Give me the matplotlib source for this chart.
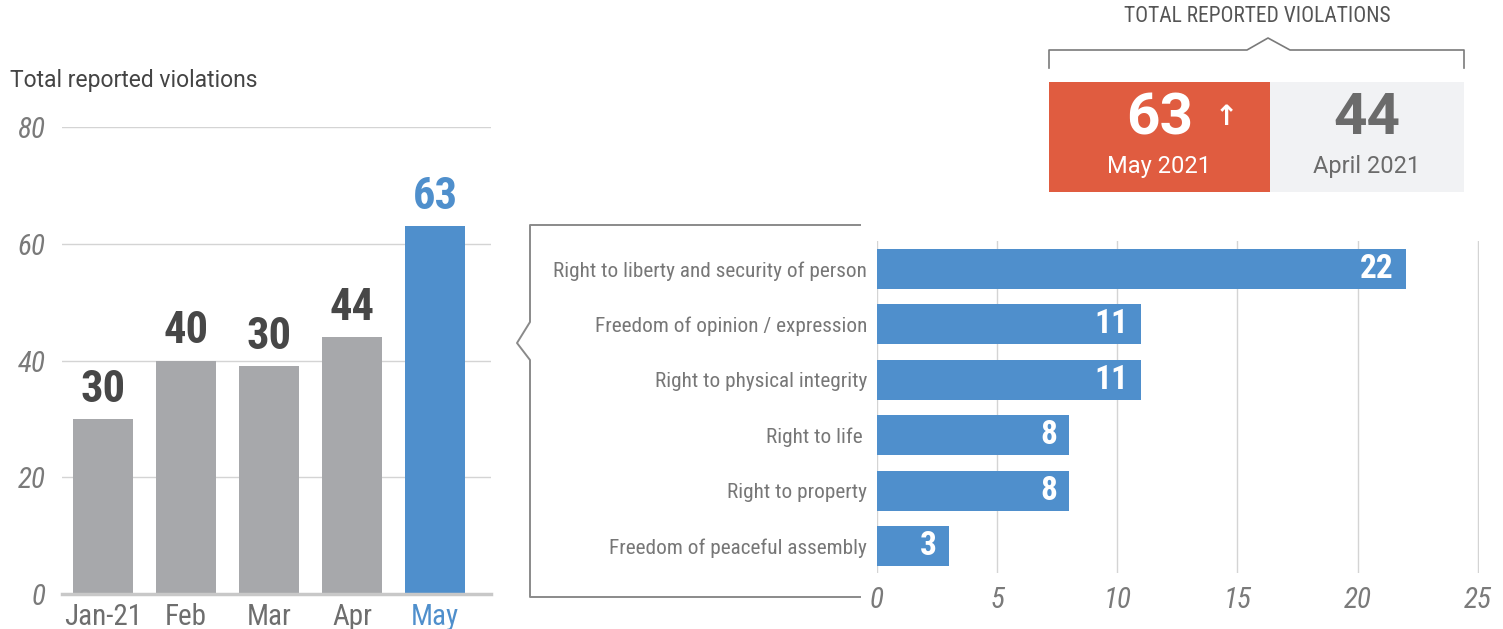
import matplotlib
matplotlib.use("Agg")
import matplotlib.pyplot as plt
from matplotlib import font_manager

# data
months = ["Jan-21", "Feb", "Mar", "Apr", "May"]
month_totals = [30, 40, 39, 44, 63]
month_labels = ["30", "40", "30", "44", "63"]

rights = ["Right to liberty and security of person", "Freedom of opinion / expression",
          "Right to physical integrity", "Right to life ", "Right to property",
          "Freedom of peaceful assembly"]
rights_counts = [22, 11, 11, 8, 8, 3]

current_total = 63
current_label = "May 2021"
previous_total = 44
previous_label = "April 2021"

names = {f.name for f in font_manager.fontManager.ttflist}
COND = "Roboto Condensed" if "Roboto Condensed" in names else "Roboto"
REG = "Roboto"
plt.rcParams["font.family"] = [COND, "DejaVu Sans"]

GREY_BAR = "#a7a8ab"
BLUE = "#4f8fcc"
RED = "#e05c40"
TXT = "#6e6e6e"

W, H = 1503, 629
fig = plt.figure(figsize=(W / 100, H / 100), dpi=100)


def box(l, t, r, b):
    return [l / W, 1 - b / H, (r - l) / W, (b - t) / H]


# overlay for decorations, pixel coords
ov = fig.add_axes([0, 0, 1, 1], zorder=0)
ov.set_xlim(0, W)
ov.set_ylim(H, 0)
ov.axis("off")

# ---- left: monthly totals
ax1 = fig.add_axes(box(62, 127, 491, 594))
x = range(len(months))
cols = [GREY_BAR] * (len(months) - 1) + [BLUE]
ax1.bar(x, month_totals, width=0.723, color=cols, zorder=3)
for i, (v, lab) in enumerate(zip(month_totals, month_labels)):
    ax1.annotate(lab, (i, v), xytext=(0, 6), textcoords="offset points",
                 ha="center", va="bottom", fontsize=32, fontweight="bold",
                 color=BLUE if i == len(months) - 1 else "#474747")
ax1.set_xlim(-0.494, 4.675)
ax1.set_ylim(0, 80)
ax1.set_yticks([0, 20, 40, 60, 80])
ax1.yaxis.grid(True, color="#d4d4d4", lw=1)
ax1.set_axisbelow(True)
for s in ["top", "right", "left"]:
    ax1.spines[s].set_visible(False)
ax1.spines["bottom"].set_color("#c8c8c8")
ax1.spines["bottom"].set_linewidth(2.5)
ax1.spines["bottom"].set_zorder(4)
ax1.tick_params(length=0)
ax1.set_xticks(list(x))
ax1.set_xticklabels(months, fontsize=21, color=TXT)
ax1.get_xticklabels()[-1].set_color(BLUE)
ax1.tick_params(axis="x", pad=6.5)
ax1.tick_params(axis="y", pad=12)
for t in ax1.get_yticklabels():
    t.set_fontsize(21)
    t.set_fontstyle("italic")
    t.set_color("#7a7a7a")

ov.text(10, 80, "Total reported violations", fontsize=16.5, color="#444444",
        ha="left", va="center", family=[REG, "DejaVu Sans"])

# ---- right: breakdown by right
ax2 = fig.add_axes(box(877, 241, 1479, 573))
y = range(len(rights))
ax2.barh(y, rights_counts, height=0.72, color=BLUE, zorder=3)
for i, v in enumerate(rights_counts):
    ax2.annotate(str(v), (v, i), xytext=(-9, 0), textcoords="offset points",
                 ha="right", va="center", fontsize=24, fontweight="bold", color="white")
ax2.set_ylim(len(rights) - 0.513, -0.505)
ax2.set_xlim(0, 25.05)
ax2.set_xticks([0, 5, 10, 15, 20, 25])
ax2.xaxis.grid(True, color="#d4d4d4", lw=1)
ax2.set_axisbelow(True)
for s in ax2.spines.values():
    s.set_visible(False)
ax2.tick_params(length=0)
ax2.set_yticks(list(y))
ax2.set_yticklabels(rights, fontsize=15.3, color="#777777")
ax2.tick_params(axis="y", pad=7)
ax2.tick_params(axis="x", pad=9)
for t in ax2.get_xticklabels():
    t.set_fontsize(21)
    t.set_fontstyle("italic")
    t.set_color("#7a7a7a")

# callout frame
ov.plot([860, 530, 530, 517, 530, 530, 860],
        [225, 225, 322, 343, 360, 597, 597], color="#8a8a8a", lw=1.4)

# ---- top-right summary boxes
ov.add_patch(plt.Rectangle((1049, 82), 221, 110, color=RED, lw=0))
ov.add_patch(plt.Rectangle((1270, 82), 194, 110, color="#f1f2f4", lw=0))
ov.text(1160, 119, str(current_total), fontsize=42, fontweight="bold", color="white",
        ha="center", va="center", family=[REG, "DejaVu Sans"])
ov.text(1226, 117, "\u2191", fontsize=20, fontweight="bold", color="white",
        ha="center", va="center", family=["DejaVu Sans"])
ov.text(1159, 166, current_label, fontsize=17, color="white",
        ha="center", va="center", family=[REG, "DejaVu Sans"])
ov.text(1367, 119, str(previous_total), fontsize=42, fontweight="bold", color="#6b6b6b",
        ha="center", va="center", family=[REG, "DejaVu Sans"])
ov.text(1367, 166, previous_label, fontsize=17, color="#6b6b6b",
        ha="center", va="center", family=[REG, "DejaVu Sans"])

ov.plot([1049, 1049, 1247, 1268, 1290, 1464, 1464],
        [68, 50, 50, 38, 50, 50, 68], color="#7a7a7a", lw=1.2)
ov.text(1257, 17, "TOTAL REPORTED VIOLATIONS", fontsize=15.5, color="#555555",
        ha="center", va="center")

fig.savefig("out.png", dpi=100)
